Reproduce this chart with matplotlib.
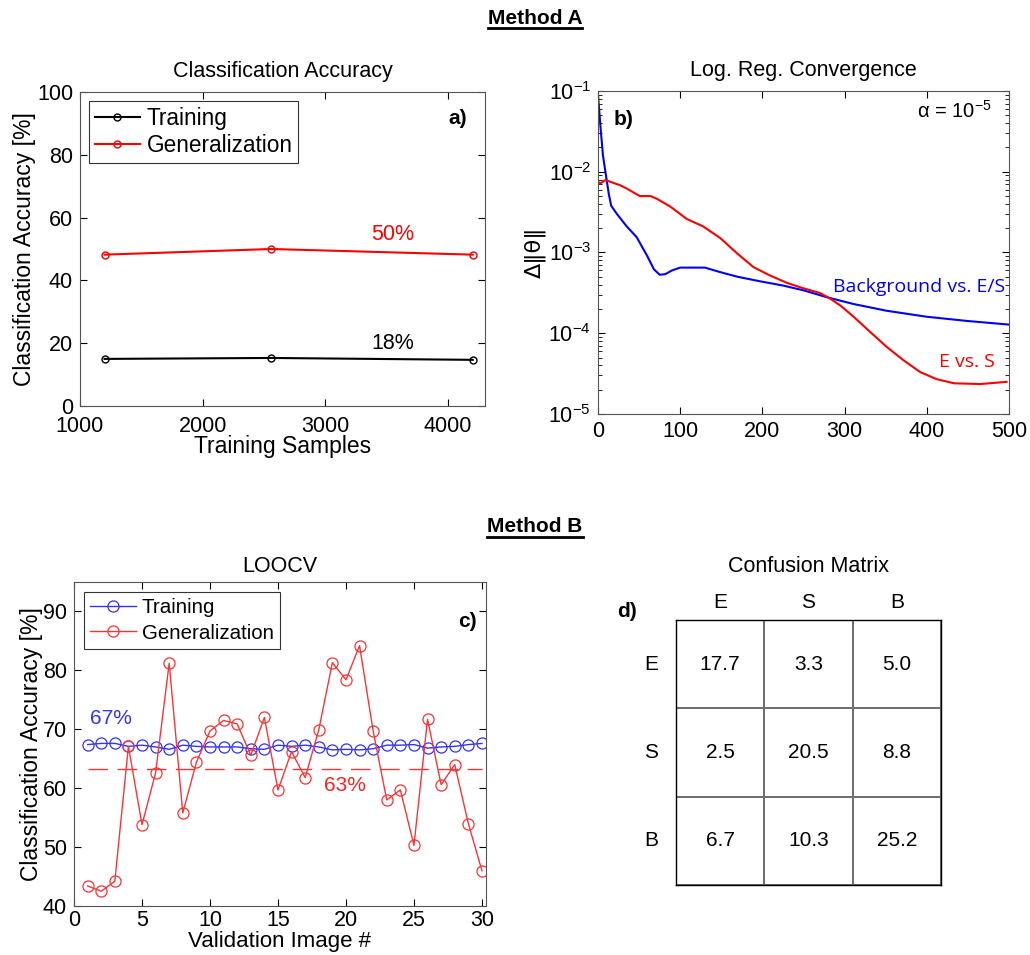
import numpy as np
from matplotlib import pyplot as plt
from matplotlib.lines import Line2D

plt.rcParams['font.family'] = ['Liberation Sans', 'DejaVu Sans']
plt.rcParams['mathtext.fontset'] = 'custom'
plt.rcParams['mathtext.rm'] = 'Liberation Sans'
plt.rcParams['mathtext.it'] = 'Liberation Sans:italic'
plt.rcParams['mathtext.bf'] = 'Liberation Sans:bold'

# a) accuracy vs training samples
samples = [1200, 2560, 4200]
train_acc = [15.0, 15.3, 14.7]
gen_acc = [48.2, 50.0, 48.2]

# b) logistic regression convergence
bg_iter = [0, 3, 6, 9, 13, 16, 23, 35, 47, 60, 68, 75, 82, 90, 100, 115, 130,
           149, 170, 197, 225, 250, 278, 311, 351, 400, 449, 500]
bg_delta = [9e-2, 3.6e-2, 1.6e-2, 1e-2, 5.4e-3, 3.8e-3, 3e-3, 2.1e-3, 1.55e-3,
            9e-4, 6.2e-4, 5.3e-4, 5.4e-4, 6.0e-4, 6.5e-4, 6.5e-4, 6.5e-4, 5.7e-4,
            5e-4, 4.4e-4, 3.9e-4, 3.4e-4, 2.8e-4, 2.3e-4, 1.9e-4, 1.6e-4, 1.42e-4,
            1.28e-4]
es_iter = [0, 3, 9, 20, 27, 35, 45, 51, 64, 72, 88, 108, 128, 149, 169, 189, 209,
           230, 250, 270, 282, 295, 311, 331, 351, 372, 392, 412, 433, 465, 497]
es_delta = [7.5e-3, 7.2e-3, 7.9e-3, 7.2e-3, 6.8e-3, 6.2e-3, 5.4e-3, 5.0e-3, 5.0e-3,
            4.6e-3, 3.7e-3, 2.6e-3, 2.1e-3, 1.5e-3, 9.8e-4, 6.6e-4, 5.2e-4, 4.2e-4,
            3.6e-4, 3.15e-4, 2.7e-4, 2.2e-4, 1.6e-4, 1.04e-4, 6.8e-5, 4.6e-5, 3.3e-5,
            2.7e-5, 2.4e-5, 2.35e-5, 2.5e-5]

# c) LOOCV
images = list(range(1, 31))
loo_train = [67.4, 67.6, 67.6, 67.1, 67.3, 67.0, 66.6, 67.3, 67.1, 67.0,
             67.0, 67.0, 66.7, 66.6, 67.3, 67.1, 67.3, 67.0, 66.5, 66.6,
             66.5, 66.7, 67.3, 67.3, 67.4, 66.8, 67.0, 67.1, 67.4, 67.6]
loo_gen = [43.4, 42.5, 44.2, 67.1, 53.8, 62.6, 81.2, 55.8, 64.4, 69.7,
           71.5, 70.9, 65.6, 72.0, 59.7, 66.2, 61.8, 69.9, 81.3, 78.4,
           84.2, 69.7, 58.0, 59.7, 50.3, 71.7, 60.6, 64.0, 54.0, 46.0]
loo_gen_mean = 63.3

# d) confusion matrix
classes = ['E', 'S', 'B']
confusion = [[17.7, 3.3, 5.0],
             [2.5, 20.5, 8.8],
             [6.7, 10.3, 25.2]]

W, H = 1030, 955
fig = plt.figure(figsize=(W / 100, H / 100), dpi=100)

def box(l, t, r, b):
    return [l / W, 1 - b / H, (r - l) / W, (b - t) / H]

def matlab_style(ax):
    ax.tick_params(direction='in', top=True, right=True, labelsize=15.5, length=5,
                   pad=5)
    ax.tick_params(which='minor', direction='in', top=True, right=True, length=3)
    for s in ax.spines.values():
        s.set_color('#555555')

# a)
ax1 = fig.add_axes(box(80, 92, 485, 406))
ax1.plot(samples, train_acc, 'o-', color='black', lw=1.5, ms=5, mfc='none',
         label='Training')
ax1.plot(samples, gen_acc, 'o-', color='red', lw=1.5, ms=5, mfc='none',
         label='Generalization')
ax1.set_xlim(1000, 4300)
ax1.set_ylim(0, 100)
ax1.set_xticks([1000, 2000, 3000, 4000])
ax1.set_yticks(range(0, 101, 20))
matlab_style(ax1)
ax1.tick_params(axis='x', pad=7)
ax1.set_title('Classification Accuracy', fontsize=15.5, pad=11)
ax1.set_xlabel('Training Samples', fontsize=16.5, labelpad=-1)
ax1.set_ylabel('Classification Accuracy [%]', fontsize=16.5, labelpad=1)
leg = ax1.legend(loc='upper left', fontsize=16.3, fancybox=False, edgecolor='black',
                 handlelength=2.0, borderaxespad=0.4, handletextpad=0.3,
                 borderpad=0.25, labelspacing=0.2)
leg.get_frame().set_linewidth(0.8)
ax1.text(3550, 54.5, '50%', color='red', fontsize=15.5, ha='center', va='center')
ax1.text(3550, 20, '18%', color='black', fontsize=15.5, ha='center', va='center')
ax1.text(4080, 91.5, 'a)', fontsize=15, fontweight='bold', ha='center', va='center')

# b)
ax2 = fig.add_axes(box(598, 91, 1009, 414))
ax2.semilogy(bg_iter, bg_delta, color='blue', lw=1.5)
ax2.semilogy(es_iter, es_delta, color='red', lw=1.5)
ax2.set_xlim(0, 500)
ax2.set_ylim(1e-5, 1e-1)
ax2.set_xticks(range(0, 501, 100))
matlab_style(ax2)
ax2.set_title('Log. Reg. Convergence', fontsize=15.5, pad=11)
ax2.set_ylabel('Δ‖θ‖', fontsize=16, family=['DejaVu Sans'], labelpad=2)
ax2.text(286, 3.7e-4, 'Background vs. E/S', color='blue', fontsize=14,
         family=['Open Sans', 'DejaVu Sans'], va='center', ha='left')
ax2.text(483, 4.4e-5, 'E vs. S', color='red', fontsize=14,
         family=['Open Sans', 'DejaVu Sans'], va='center', ha='right')
ax2.text(479, 5.6e-2, r'α = 10$^{\mathregular{-5}}$', fontsize=14.5, ha='right',
         va='center')
ax2.text(19, 4.4e-2, 'b)', fontsize=15, fontweight='bold', ha='left', va='center')

# c)
ax3 = fig.add_axes(box(74, 582, 486, 906))
ax3.plot(images, loo_train, 'o-', color='#3333ff', lw=1, ms=8, mfc='none',
         mew=0.9, label='Training')
ax3.plot(images, loo_gen, 'o-', color='#ff3333', lw=1, ms=8, mfc='none',
         mew=0.9, label='Generalization')
ax3.plot([images[0], images[-1]], [loo_gen_mean, loo_gen_mean], color='#ff3333',
         lw=1, dashes=(14, 7))
ax3.set_xlim(0, 30.3)
ax3.set_ylim(40, 95)
ax3.set_xticks(range(0, 31, 5))
ax3.set_yticks(range(40, 91, 10))
matlab_style(ax3)
ax3.tick_params(axis='x', pad=3)
ax3.set_title('LOOCV', fontsize=15.5, pad=7)
ax3.set_xlabel('Validation Image #', fontsize=16, labelpad=0)
ax3.set_ylabel('Classification Accuracy [%]', fontsize=16.5, labelpad=0)
leg = ax3.legend(loc='upper left', fontsize=14.8, fancybox=False, edgecolor='black',
                 handlelength=2.2, borderaxespad=0.5, handletextpad=0.3,
                 borderpad=0.3, labelspacing=0.3)
leg.get_frame().set_linewidth(0.8)
ax3.text(2.7, 71.8, '67%', color='#3333ff', fontsize=15, ha='center', va='center')
ax3.text(19.9, 60.5, '63%', color='#ff2222', fontsize=15, ha='center', va='center')
ax3.text(28.9, 88.3, 'c)', fontsize=15, fontweight='bold', ha='center', va='center')

# d)
ax4 = fig.add_axes(box(676, 620, 941, 885))
ax4.pcolormesh(np.zeros((3, 3)), cmap='Greys', vmin=0, vmax=1,
               edgecolors='#707070', linewidth=1.2)
ax4.set_xlim(0, 3)
ax4.set_ylim(3, 0)
ax4.set_xticks([])
ax4.set_yticks([])
for s in ax4.spines.values():
    s.set_color('black')
    s.set_linewidth(1.0)
for i, row in enumerate(confusion):
    for j, v in enumerate(row):
        ax4.text(j + 0.5, i + 0.5, '%.1f' % v, fontsize=15, ha='center', va='center')
for k, c in enumerate(classes):
    ax4.text(k + 0.5, -0.2, c, fontsize=15, ha='center', va='center')
    ax4.text(-0.28, k + 0.5, c, fontsize=15, ha='center', va='center')
ax4.text(-0.56, -0.1, 'd)', fontsize=15, fontweight='bold', ha='center', va='center')
fig.text(808 / W, 1 - 567 / H, 'Confusion Matrix', fontsize=15.5, ha='center',
         va='center')

# section headers
fig.canvas.draw()
renderer = fig.canvas.get_renderer()
for label, yc in [('Method A', 18), ('Method B', 527)]:
    t = fig.text(535 / W, 1 - yc / H, label, fontsize=15, fontweight='bold',
                 ha='center', va='center')
    bb = t.get_window_extent(renderer)
    yline = (bb.y0 - 1) / H
    fig.add_artist(Line2D([bb.x0 / W, bb.x1 / W], [yline, yline], color='black',
                          lw=2, transform=fig.transFigure))

plt.savefig('out.png', dpi=100)
